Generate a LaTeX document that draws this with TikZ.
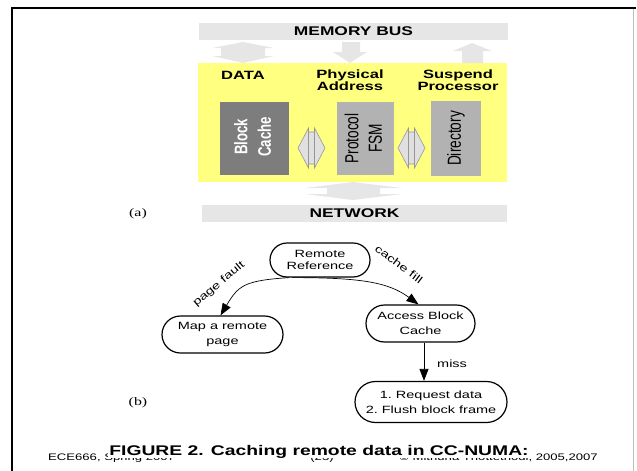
\documentclass[tikz,border=0pt]{standalone}
\usepackage{fontspec}
\setmainfont{Liberation Sans}
\newfontfamily\wide{Liberation Sans}[FakeStretch=1.38]
\newfontfamily\wideserif{Liberation Serif}[FakeStretch=1.38]
\usetikzlibrary{shapes.misc,arrows.meta}
\definecolor{barg}{RGB}{230,230,230}
\definecolor{arrg}{RGB}{224,224,224}
\definecolor{arrline}{RGB}{150,150,150}
\definecolor{ylw}{RGB}{255,255,128}
\definecolor{darkbox}{RGB}{125,125,125}
\definecolor{lightbox}{RGB}{178,178,178}
\definecolor{framegrey}{RGB}{190,190,190}
\tikzset{
  bar/.style={fill=barg, draw=none, inner sep=0pt, minimum height=17pt,
    font=\wide\bfseries\fontsize{12.6}{14}\selectfont},
  lbl/.style={inner sep=0pt, align=center, font=\wide\bfseries\fontsize{12}{12.5}\selectfont},
  unitbox/.style={draw=none, inner sep=0pt},
  rottext/.style={rotate=90, inner sep=0pt, align=center, font=\fontsize{13.7}{17}\selectfont},
  fatarrow/.style={fill=barg, draw=none},
  smallarrow/.style={fill=arrg, draw=arrline, line width=0.6pt},
  st/.style={rounded rectangle, draw, line width=1.2pt, inner sep=0pt, align=center,
    font=\wide\fontsize{10.5}{15}\selectfont},
  edgelbl/.style={inner sep=0pt, font=\wide\fontsize{10.5}{12}\selectfont},
  flow/.style={line width=0.7pt, -{Triangle[length=12pt,width=9pt]}},
  paren/.style={inner sep=0pt, font=\wideserif\fontsize{11.5}{13}\selectfont},
  foot/.style={inner sep=0pt, font=\wide\fontsize{9.5}{11}\selectfont}
}
\begin{document}
\begin{tikzpicture}[x=1pt,y=-1pt]
\useasboundingbox (0,0) rectangle (637,471);
% frame
\draw[framegrey, line width=1pt] (633,8) -- (633,471);
\draw[black, line width=2pt] (11.5,471) -- (11.5,8) -- (636,8);

% ---------- part (a)
\node[bar, minimum width=309pt] (membus) at (353.5,31.5) {MEMORY BUS};
\node[fill=ylw, draw=none, inner sep=0pt, minimum width=309pt, minimum height=119pt] (yel) at (352.5,122.5) {};
\node[bar, minimum width=305pt] (net) at (354.5,213.5) {NETWORK};

\node[lbl] (data) at (243,75) {DATA};
\node[lbl] (phys) at (350,80) {Physical\\Address};
\node[lbl] (susp) at (458,80) {Suspend\\Processor};

\node[unitbox, fill=darkbox, minimum width=69pt, minimum height=73pt] (bc) at (254.5,138.5) {};
\node[unitbox, fill=lightbox, minimum width=57pt, minimum height=73pt] (pf) at (365.5,138.5) {};
\node[unitbox, fill=lightbox, minimum width=50pt, minimum height=75pt] (dir) at (456,138.5) {};
\node[rottext, text=white, font=\bfseries\fontsize{13.2}{17}\selectfont] (bct) at ([yshift=1.5pt]bc.center) {\scalebox{1}[1.38]{\begin{tabular}{@{}c@{}}Block\\Cache\end{tabular}}};
\node[rottext] (pft) at (pf) {\scalebox{1}[1.38]{\begin{tabular}{@{}c@{}}Protocol\\FSM\end{tabular}}};
\node[rottext] (dirt) at (dir) {\scalebox{1}[1.38]{Directory}};

% fat arrows between bus and unit
\fill[fatarrow] (243,42) -- (274,48) -- (265,48) -- (265,56) -- (274,56) -- (243,63)
  -- (212,56) -- (221,56) -- (221,48) -- (212,48) -- cycle;
\fill[fatarrow] (342,42) -- (360,42) -- (360,52) -- (367,52) -- (350,63) -- (333,52) -- (342,52) -- cycle;
\fill[fatarrow] (472,43) -- (492,51) -- (483,51) -- (483,63) -- (462,63) -- (462,51) -- (453,51) -- cycle;
\fill[fatarrow] (353,182) -- (402,188) -- (380,188) -- (380,194) -- (402,194) -- (353,200)
  -- (305,194) -- (327,194) -- (327,188) -- (305,188) -- cycle;

% small double arrows between units
\foreach \c in {311.5,411.5}{
  \filldraw[smallarrow] (\c-13.5,148) -- (\c-3,128) -- (\c-3,132) -- (\c+3,132) -- (\c+3,128)
    -- (\c+13.5,148) -- (\c+3,168) -- (\c+3,164) -- (\c-3,164) -- (\c-3,168) -- cycle;
  \draw[arrline, line width=0.6pt] (\c-3,128) -- (\c-3,168) (\c+3,128) -- (\c+3,168);
}

\node[paren] (pa) at (138,214) {(a)};

% ---------- part (b)
\node[st, minimum width=100pt, minimum height=34pt, font=\wide\fontsize{10.5}{12.5}\selectfont] (remote) at (320,260) {Remote\\Reference};
\node[st, minimum width=109pt, minimum height=37pt] (access) at (420.5,323.5) {Access Block\\Cache};
\node[st, minimum width=121pt, minimum height=37pt] (map) at (222.5,334.5) {Map a remote\\page};
\node[st, minimum width=152pt, minimum height=41pt] (req) at (431,402) {1.~Request data\\2.~Flush block frame};

\draw[flow] ([xshift=-31pt]remote.south) .. controls +(-45,3) and +(18,-30) .. ([xshift=-2pt]map.north);
\draw[flow] ([xshift=-28pt]remote.south) .. controls +(70,0) and +(-30,-22) .. ([xshift=-2pt]access.north);
\draw[flow] ([xshift=3.5pt]access.south) -- ([xshift=3.5pt]access.south |- req.north);

\node[edgelbl, rotate=40] (pfl) at (219,284) {page fault};
\node[edgelbl, rotate=-37] (cfl) at (399,264) {cache fill};
\node[edgelbl, anchor=west] (miss) at (437,364) {miss};

\node[paren] (pb) at (138,403) {(b)};

% ---------- footer and caption
\node[foot, anchor=base west] (f1) at (48,460) {ECE666, Spring 2007};
\node[foot, anchor=base] (f2) at (322,460) {(23)};
\node[foot, anchor=base east] (f3) at (598,460) {© Mithuna Thottethodi, 2005,2007};
\node[anchor=base, fill=white, inner xsep=1.5pt, inner ysep=0pt,
  font=\wide\bfseries\fontsize{14}{16}\selectfont] (cap) at (319,455) {FIGURE 2. Caching remote data in CC-NUMA:};
\end{tikzpicture}
\end{document}
